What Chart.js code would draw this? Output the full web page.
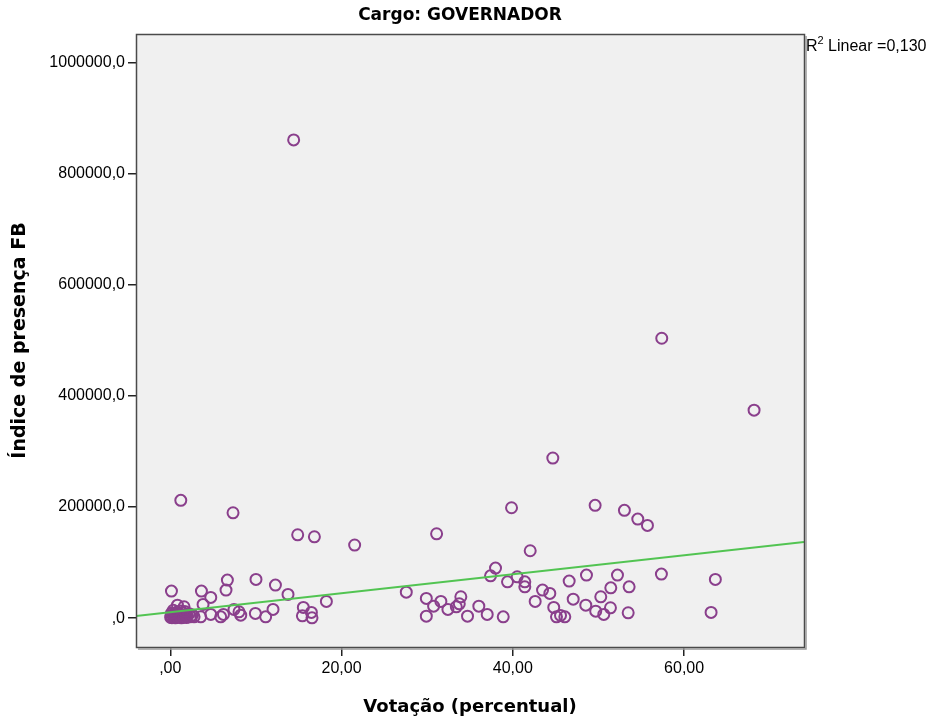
<!DOCTYPE html>
<html>
<head>
<meta charset="utf-8">
<script src="https://cdn.jsdelivr.net/npm/chart.js@4"></script>
<style>
  body { margin: 0; background: #fff; }
</style>
</head>
<body>
<canvas id="chart" width="932" height="719"></canvas>
<script>
// Votação (%) x Índice de presença FB
const votacao = [
  14.41, 57.39, 68.17, 44.67, 1.23, 7.33, 39.85, 49.61, 53.03, 54.59, 55.72,
  14.88, 16.83, 21.53, 31.10, 42.03, 37.98, 37.40,
  41.40, 41.40, 46.58, 48.60, 52.22, 57.35, 63.65, 43.47, 44.32, 42.61, 47.05,
  51.44, 53.58, 50.27, 48.52, 51.40, 44.78, 49.68, 50.62, 53.47, 63.15, 45.10,
  45.57, 46.07,
  12.28, 13.75, 12.00, 15.54, 15.43, 16.48, 16.55, 18.23, 27.56, 29.90, 29.90,
  30.75, 31.60, 32.42, 33.40, 33.75, 33.93, 34.71, 36.03, 37.01, 38.88, 39.38,
  40.51,
  0.14, 3.64, 4.73, 6.67, 6.51, 10.01, 3.83, 7.44, 8.03, 8.23, 4.73, 5.89,
  6.21, 9.94, 11.14, 2.78, 3.56, 1.61, 0.84,
  0.05, 0.10, 0.20, 0.30, 0.40, 0.50, 0.60, 0.70, 0.80, 0.90, 1.00, 1.10,
  1.20, 1.30, 1.40, 1.50, 1.60, 1.80, 1.90, 2.00, 2.20, 2.40, 2.60, 0.15,
  0.35, 1.70
];
const presencaFB = [
  861300, 504100, 374500, 288300, 212100, 189700, 198800, 203100, 194100, 178400, 167000,
  150100, 146500, 131600, 151900, 121300, 90100, 76200,
  65400, 56400, 66700, 77500, 77500, 79300, 69700, 50500, 44500, 30100, 34200,
  54600, 56400, 38400, 23400, 18600, 19300, 12600, 6700, 9600, 10300, 2300,
  4900, 2300,
  59500, 42700, 15700, 19300, 4100, 10300, 500, 30100, 46800, 35500, 3600,
  21600, 30100, 15700, 20400, 25800, 38400, 3600, 21600, 6700, 2300, 65400,
  74400,
  48700, 48700, 37300, 68500, 50500, 69700, 24700, 15700, 11400, 5400, 6700, 2300,
  6700, 8500, 2300, 2300, 2300, 20400, 23400,
  1200, 3500, 800, 6000, 2000, 9000, 500, 4000, 11000, 1500, 7000, 3000,
  13000, 500, 5000, 9500, 2000, 6500, 1000, 4000, 8000, 2500, 5500, 9000,
  14000, 12000
];

// linear fit line, ends at the plot edges
const fitX = [-4, 74];
const fitY = [3600, 137000];

const xTicks = [0, 20, 40, 60];
const xTickLabels = [',00', '20,00', '40,00', '60,00'];
const yTicks = [0, 200000, 400000, 600000, 800000, 1000000];
const yTickLabels = [',0', '200000,0', '400000,0', '600000,0', '800000,0', '1000000,0'];

const points = votacao.map((v, i) => ({ x: v, y: presencaFB[i] }));
const fitLine = fitX.map((v, i) => ({ x: v, y: fitY[i] }));

const frame = {
    id: 'frame',
    beforeDatasetsDraw(chart) {
        const { ctx, chartArea: a } = chart;
        ctx.save();
        ctx.fillStyle = '#f0f0f0';
        ctx.fillRect(a.left, a.top, a.right - a.left, a.bottom - a.top);
        ctx.restore();
    },
    afterDraw(chart) {
        const { ctx, chartArea: a } = chart;
        ctx.save();
        ctx.strokeStyle = '#4a4a4a';
        ctx.lineWidth = 1.5;
        ctx.strokeRect(a.left + 0.5, a.top + 0.5, a.right - a.left, a.bottom - a.top);
        ctx.strokeStyle = '#9a9a9a';
        ctx.beginPath();
        ctx.moveTo(a.right + 2, a.top + 2);
        ctx.lineTo(a.right + 2, a.bottom + 2);
        ctx.lineTo(a.left + 2, a.bottom + 2);
        ctx.stroke();

        ctx.fillStyle = '#000';
        ctx.textBaseline = 'middle';
        ctx.textAlign = 'center';
        ctx.font = 'bold 17px "DejaVu Sans", sans-serif';
        ctx.fillText('Cargo: GOVERNADOR', 460, 16);

        ctx.textAlign = 'left';
        ctx.font = '16px "Liberation Sans", Arial, sans-serif';
        ctx.fillText('R', 806, 47);
        const rw = ctx.measureText('R').width;
        ctx.font = '11px "Liberation Sans", Arial, sans-serif';
        ctx.fillText('2', 806 + rw, 41);
        const sw = ctx.measureText('2').width;
        ctx.font = '16px "Liberation Sans", Arial, sans-serif';
        ctx.fillText(' Linear =0,130', 806 + rw + sw, 47);
        ctx.restore();
    }
};

new Chart(document.getElementById('chart'), {
    type: 'scatter',
    data: {
        datasets: [
            {
                type: 'line',
                data: fitLine,
                borderColor: '#52c452',
                borderWidth: 2,
                pointRadius: 0,
                fill: false,
                order: 0
            },
            {
                data: points,
                borderColor: '#8a3f8c',
                backgroundColor: 'rgba(0,0,0,0)',
                borderWidth: 2,
                pointRadius: 5.5,
                order: 1
            }
        ]
    },
    options: {
        responsive: false,
        animation: false,
        layout: { padding: { top: 34, right: 128, left: 0, bottom: 0 } },
        plugins: {
            legend: { display: false },
            tooltip: { enabled: false }
        },
        scales: {
            x: {
                type: 'linear',
                min: -4,
                max: 74,
                afterFit(scale) { scale.height = 72; },
                afterBuildTicks(scale) { scale.ticks = xTicks.map(v => ({ value: v })); },
                ticks: {
                    autoSkip: false,
                    maxRotation: 0,
                    padding: 3,
                    color: '#000',
                    font: { family: '"Liberation Sans", Arial, sans-serif', size: 16 },
                    callback: (v) => xTickLabels[xTicks.indexOf(v)]
                },
                grid: { drawOnChartArea: false, drawTicks: true, tickLength: 9, color: '#222', lineWidth: 1.5 },
                border: { display: false },
                title: {
                    display: true,
                    text: 'Votação (percentual)',
                    color: '#000',
                    font: { family: '"DejaVu Sans", sans-serif', size: 18, weight: 'bold' },
                    padding: { top: 0, bottom: 1 }
                }
            },
            y: {
                type: 'linear',
                min: -52000,
                max: 1052000,
                afterFit(scale) { scale.width = 136; },
                afterBuildTicks(scale) { scale.ticks = yTicks.map(v => ({ value: v })); },
                ticks: {
                    autoSkip: false,
                    padding: 3,
                    color: '#000',
                    font: { family: '"Liberation Sans", Arial, sans-serif', size: 16 },
                    callback: (v) => yTickLabels[yTicks.indexOf(v)]
                },
                grid: { drawOnChartArea: false, drawTicks: true, tickLength: 8, color: '#222', lineWidth: 1.5 },
                border: { display: false },
                title: {
                    display: true,
                    text: 'Índice de presença FB',
                    color: '#000',
                    font: { family: '"DejaVu Sans", sans-serif', size: 19, weight: 'bold' },
                    padding: { top: 9, bottom: 0 }
                }
            }
        }
    },
    plugins: [frame]
});
</script>
</body>
</html>
